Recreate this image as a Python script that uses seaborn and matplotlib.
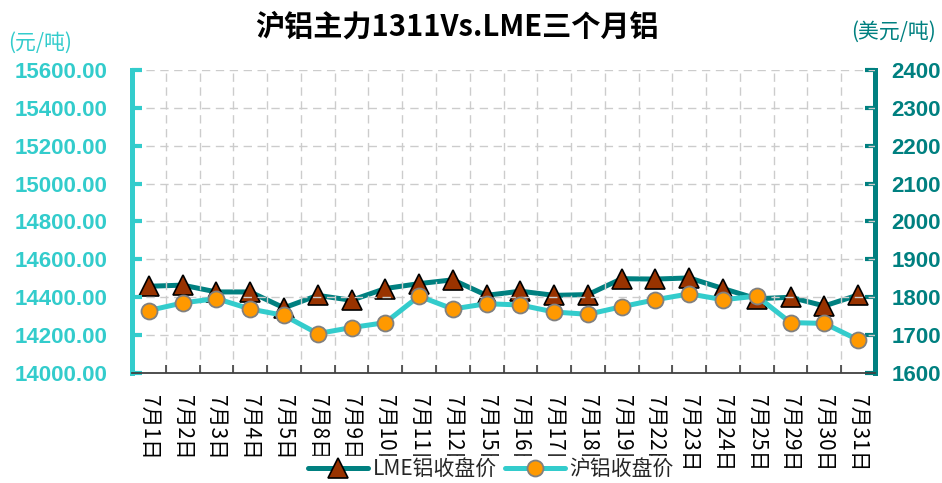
import matplotlib
matplotlib.use("Agg")
import matplotlib.pyplot as plt
import seaborn as sns
import pandas as pd
from matplotlib.ticker import MultipleLocator, FixedLocator, FormatStrFormatter

# ---- data ----
dates = ['7月1日', '7月2日', '7月3日', '7月4日', '7月5日', '7月8日', '7月9日', '7月10日',
         '7月11日', '7月12日', '7月15日', '7月16日', '7月17日', '7月18日', '7月19日',
         '7月22日', '7月23日', '7月24日', '7月25日', '7月29日', '7月30日', '7月31日']
shfe_close = [14330, 14370, 14393, 14338, 14304, 14208, 14240, 14266, 14406, 14338, 14366,
              14359, 14322, 14310, 14350, 14387, 14418, 14387, 14406, 14266, 14262, 14175]
lme_close = [1829, 1832, 1814, 1814, 1772, 1805, 1792, 1823, 1836, 1846, 1805,
             1816, 1805, 1807, 1849, 1848, 1851, 1823, 1796, 1800, 1777, 1806]
title = '沪铝主力1311Vs.LME三个月铝'
lme_name = 'LME铝收盘价'
shfe_name = '沪铝收盘价'
left_unit = '(元/吨)'
right_unit = '(美元/吨)'

df = pd.DataFrame({'date': dates, 'shfe': shfe_close, 'lme': lme_close})

sns.set_theme(style='white')
plt.rcParams['font.family'] = ['Noto Sans CJK SC', 'DejaVu Sans']

CYAN = '#33CCCC'
TEAL = '#008080'
BROWN = '#993300'
ORANGE = '#FF9900'
GRID = '#CCCCCC'

fig = plt.figure(figsize=(9.42, 4.83), dpi=100)
ax = fig.add_axes([132 / 942, 1 - 373 / 483, (875 - 132) / 942, (373 - 70) / 483])
ax2 = ax.twinx()

# LME on right axis (drawn behind)
sns.lineplot(data=df, x='date', y='lme', ax=ax2, sort=False, color=TEAL, linewidth=3.6,
             marker='^', markersize=14.5, markerfacecolor=BROWN, markeredgecolor='black',
             markeredgewidth=1.2, label=lme_name, legend=False)
# SHFE on left axis (drawn on top)
sns.lineplot(data=df, x='date', y='shfe', ax=ax, sort=False, color=CYAN, linewidth=3.6,
             marker='o', markersize=11.5, markerfacecolor=ORANGE, markeredgecolor='#808080',
             markeredgewidth=1.3, label=shfe_name, legend=False)

ax.set_zorder(ax2.get_zorder() + 1)
ax.patch.set_visible(False)

n = len(dates)
ax.set_xlim(-0.5, n - 0.5)
ax.set_ylim(14000, 15600)
ax2.set_ylim(1600, 2400)
ax.set_xlabel('')
ax.set_ylabel('')
ax2.set_ylabel('')

ax.yaxis.set_major_locator(MultipleLocator(200))
ax.yaxis.set_major_formatter(FormatStrFormatter('%.2f'))
ax2.yaxis.set_major_locator(MultipleLocator(100))

# x ticks: labels at centres, tick marks at boundaries
ax.set_xticks(range(n))
ax.set_xticklabels(dates, rotation=-90, fontsize=15, color='black', va='top', ha='center')
ax.xaxis.set_minor_locator(FixedLocator([i + 0.5 for i in range(n - 1)]))
ax.tick_params(axis='x', which='major', length=0, pad=16)
ax.tick_params(axis='x', which='minor', direction='in', length=6, width=1.2, color='#404040', bottom=True)

# grid
ax.grid(True, axis='y', which='major', color=GRID, linestyle=(0, (6, 4)), linewidth=1)
ax.grid(True, axis='x', which='minor', color=GRID, linestyle=(0, (6, 4)), linewidth=1)
ax.grid(False, axis='x', which='major')
ax2.grid(False)

# y tick styling
ax.tick_params(axis='y', which='major', direction='in', length=7, width=3, color=CYAN,
               labelcolor=CYAN, labelsize=16, pad=18, left=True)
ax2.tick_params(axis='y', which='major', direction='in', length=7, width=3, color=TEAL,
                labelcolor=TEAL, labelsize=16, pad=12, right=True)
for lab in ax.get_yticklabels():
    lab.set_fontweight('bold')
    lab.set_family(['Liberation Sans', 'DejaVu Sans'])
for lab in ax2.get_yticklabels():
    lab.set_fontweight('bold')
    lab.set_family(['Liberation Sans', 'DejaVu Sans'])

# spines
for a in (ax, ax2):
    a.spines['top'].set_visible(False)
ax.spines['right'].set_visible(False)
ax.spines['left'].set_color(CYAN)
ax.spines['left'].set_linewidth(3.6)
ax2.spines['left'].set_visible(False)
ax2.spines['right'].set_color(TEAL)
ax2.spines['right'].set_linewidth(3.6)
ax.spines['bottom'].set_color('#404040')
ax.spines['bottom'].set_linewidth(1.3)
ax2.spines['bottom'].set_visible(False)

# texts
fig.text(457 / 942, 1 - 27 / 483, title, ha='center', va='center', fontsize=21,
         fontweight='bold', color='black')
fig.text(8 / 942, 1 - 43 / 483, left_unit, ha='left', va='center', fontsize=15, color=CYAN)
fig.text(936 / 942, 1 - 32 / 483, right_unit, ha='right', va='center', fontsize=15, color=TEAL)

# legend
h2 = ax2.get_lines()[0]
h1 = ax.get_lines()[0]
leg = fig.legend([h2, h1], [lme_name, shfe_name], loc='center', bbox_to_anchor=(491 / 942, 1 - 469 / 483),
                 ncol=2, frameon=True, fontsize=15, handlelength=2.9, columnspacing=0.4,
                 handletextpad=0.2, borderpad=0.1, facecolor='white', edgecolor='white', framealpha=1)

fig.savefig('out.png', dpi=100)
